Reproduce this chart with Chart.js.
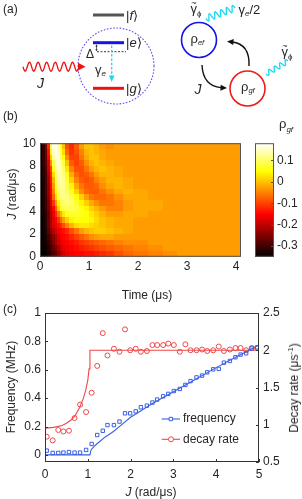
<!DOCTYPE html>
<html>
<head>
<meta charset="utf-8">
<script src="https://cdn.jsdelivr.net/npm/chart.js@4.4.1/dist/chart.umd.min.js"></script>
<style>
html, body { margin: 0; padding: 0; background: #fff; }
body { width: 302px; height: 499px; position: relative; overflow: hidden;
       font-family: 'Liberation Sans', Arial, sans-serif; color: #262626; }
canvas { position: absolute; left: 0; }
#cvB { top: 100px; }
#cvC { top: 300px; }
#schem { position: absolute; left: 0; top: 0; z-index: 2; }
.t { position: absolute; font-size: 12px; line-height: 1; white-space: nowrap; z-index: 3; }
.c { transform: translate(-50%, -50%); }
.v { transform: translate(-50%, -50%) rotate(-90deg); }
.t sub, .t sup { font-size: 8px; line-height: 0; }
</style>
</head>
<body>
<canvas id="cvB" width="302" height="200"></canvas>
<canvas id="cvC" width="302" height="199"></canvas>

<!-- panel (a): level scheme -->
<svg id="schem" width="302" height="110" font-family="Liberation Sans, Arial, sans-serif" fill="#262626">
  <text x="3" y="12.5" font-size="12">(a)</text>

  <line x1="93" y1="15" x2="124" y2="15" stroke="#555" stroke-width="3"/>
  <text x="126" y="19.5" font-size="13">|<tspan font-style="italic">f</tspan>⟩</text>
  <line x1="93" y1="42.7" x2="124" y2="42.7" stroke="#1414e6" stroke-width="3"/>
  <text x="126" y="47" font-size="13">|<tspan font-style="italic">e</tspan>⟩</text>
  <line x1="93" y1="88.3" x2="124" y2="88.3" stroke="#ee1111" stroke-width="3"/>
  <text x="126" y="92.7" font-size="13">|<tspan font-style="italic">g</tspan>⟩</text>

  <line x1="97" y1="51.7" x2="126" y2="51.7" stroke="#222" stroke-width="0.9" stroke-dasharray="2 1.5"/>
  <line x1="96.5" y1="45.5" x2="96.5" y2="50" stroke="#222" stroke-width="0.7"/>
  <polygon points="95.3,46.5 97.7,46.5 96.5,44.5" fill="#222"/>
  <polygon points="95.3,49.2 97.7,49.2 96.5,51.2" fill="#222"/>
  <text x="86" y="58" font-size="12">Δ</text>

  <line x1="111.7" y1="45.5" x2="111.7" y2="76" stroke="#19d8f2" stroke-width="1.3" stroke-dasharray="2.5 1.8"/>
  <polygon points="108.9,75.5 114.5,75.5 111.7,82" fill="#19d8f2"/>
  <text x="95" y="74" font-size="13">γ<tspan font-size="8" font-style="italic" dy="2">e</tspan></text>

  <circle cx="116" cy="66" r="38" fill="none" stroke="#6b4df0" stroke-width="1.1" stroke-dasharray="1.6 1.6"/>

  <path id="waveJ" fill="none" stroke="#ee1111" stroke-width="1.3"/>
  <polygon points="78,62.8 78,70.6 85.5,66.7" fill="#ee1111"/>
  <text x="37" y="88" font-size="14" font-style="italic">J</text>

  <circle cx="199" cy="40" r="17.5" fill="none" stroke="#1414e6" stroke-width="1.6"/>
  <text x="190.5" y="42.5" font-size="13">ρ<tspan font-size="7.5" font-style="italic" dy="2.5">ef</tspan></text>
  <circle cx="247.5" cy="88.5" r="17.5" fill="none" stroke="#ee1c1c" stroke-width="1.6"/>
  <text x="241" y="90.5" font-size="13">ρ<tspan font-size="7.5" font-style="italic" dy="2.5">gf</tspan></text>

  <path id="waveE" fill="none" stroke="#19d8f2" stroke-width="1.3"/>
  <path id="waveG" fill="none" stroke="#19d8f2" stroke-width="1.3"/>
  <text x="190.5" y="13" font-size="13">γ<tspan font-size="8" dy="2.5">ϕ</tspan></text>
  <text x="191.3" y="5.5" font-size="9">~</text>
  <text x="238.5" y="14" font-size="13">γ<tspan font-size="8" font-style="italic" dy="2">e</tspan><tspan dy="-2">/2</tspan></text>
  <text x="281.5" y="56" font-size="13">γ<tspan font-size="8" dy="2.5">ϕ</tspan></text>
  <text x="282.3" y="48.5" font-size="9">~</text>

  <path id="arrUp" fill="none" stroke="#111" stroke-width="1.4"/>
  <polygon id="headUp" fill="#111"/>
  <path id="arrDown" fill="none" stroke="#111" stroke-width="1.4"/>
  <polygon id="headDown" fill="#111"/>
  <text x="194.5" y="94" font-size="14" font-style="italic">J</text>
</svg>

<!-- panel labels and axis titles -->
<div class="t" style="left:3px;top:109.7px">(b)</div>
<div class="t v" style="left:12px;top:194px"><i>J</i> (rad/μs)</div>
<div class="t c" style="left:147px;top:295px">Time (μs)</div>
<div class="t" style="left:279px;top:117px;font-size:13px">ρ<sub><i>gf</i></sub></div>

<div class="t" style="left:3px;top:303px">(c)</div>
<div class="t v" style="left:11px;top:387px">Frequency (MHz)</div>
<div class="t v" style="left:294px;top:388px">Decay rate (μs<sup>-1</sup>)</div>
<div class="t c" style="left:151px;top:491.5px"><i>J</i> (rad/μs)</div>

<script>
// ---------- data: panel (b) heat map of rho_gf ----------
// time bin edges (μs)
const TIME_EDGES = [0, 0.05, 0.1, 0.15, 0.2, 0.25, 0.3, 0.35, 0.4, 0.45, 0.5,
                    0.6, 0.7, 0.8, 0.9, 1.0, 1.1, 1.2, 1.35, 1.5, 1.7, 1.9,
                    2.2, 2.5, 2.8, 3.1, 3.4, 3.7, 4.1];
// J bin edges (rad/μs)
const J_EDGES = [0, 0.5, 1, 1.5, 2, 2.5, 3, 3.5, 4, 4.5, 5,
                 5.5, 6, 6.5, 7, 7.5, 8, 8.5, 9, 9.5, 10];
// one row per J bin, bottom (J = 0) to top (J = 10)
const RHO_GF = [
  [-.35,-.35,-.34,-.33,-.31,-.29,-.27,-.24,-.21,-.19,-.17,-.16,-.15,-.15,-.14,-.14,-.13,-.12,-.11,-.09,-.07,-.06,-.05,-.04,-.03,-.03,-.03,-.03],
  [-.35,-.34,-.34,-.32,-.30,-.27,-.25,-.22,-.19,-.17,-.16,-.15,-.14,-.13,-.12,-.11,-.10,-.09,-.08,-.07,-.06,-.05,-.04,-.03,-.03,-.03,-.03,-.03],
  [-.35,-.34,-.33,-.31,-.28,-.25,-.22,-.19,-.17,-.16,-.15,-.14,-.13,-.11,-.10,-.09,-.08,-.07,-.06,-.05,-.04,-.04,-.03,-.03,-.03,-.03,-.03,-.03],
  [-.35,-.34,-.33,-.30,-.27,-.24,-.21,-.18,-.16,-.15,-.14,-.12,-.10,-.08,-.06,-.04,-.03,-.02,-.02,-.03,-.03,-.03,-.03,-.03,-.03,-.03,-.03,-.03],
  [-.35,-.34,-.32,-.28,-.24,-.21,-.18,-.16,-.15,-.14,-.12,-.09,-.06,-.03,-.01,0,.01,.01,0,-.01,-.02,-.03,-.03,-.03,-.03,-.03,-.03,-.03],
  [-.35,-.34,-.31,-.27,-.22,-.18,-.16,-.14,-.12,-.09,-.05,-.01,.02,.03,.03,.02,.01,0,-.01,-.02,-.02,-.03,-.03,-.03,-.03,-.03,-.03,-.03],
  [-.35,-.34,-.31,-.27,-.22,-.18,-.15,-.11,-.07,-.03,.01,.04,.05,.05,.05,.04,.02,0,-.01,-.02,-.02,-.03,-.03,-.03,-.03,-.03,-.03,-.03],
  [-.35,-.33,-.31,-.27,-.21,-.17,-.12,-.06,-.01,.03,.06,.07,.07,.06,.05,.03,.01,-.01,-.03,-.03,-.02,-.02,-.03,-.03,-.03,-.03,-.03,-.03],
  [-.35,-.33,-.30,-.26,-.20,-.15,-.08,.01,.06,.08,.09,.09,.08,.06,.04,.01,-.01,-.03,-.05,-.05,-.03,-.02,-.02,-.03,-.03,-.03,-.03,-.03],
  [-.35,-.33,-.30,-.25,-.18,-.11,-.03,.04,.08,.10,.11,.10,.07,.04,.01,-.02,-.04,-.06,-.06,-.05,-.03,-.02,-.02,-.03,-.03,-.03,-.03,-.03],
  [-.35,-.33,-.30,-.24,-.16,-.07,.02,.08,.11,.12,.11,.09,.05,.01,-.03,-.06,-.07,-.07,-.06,-.04,-.02,-.02,-.03,-.03,-.03,-.03,-.03,-.03],
  [-.35,-.33,-.29,-.23,-.15,-.05,.05,.10,.12,.12,.10,.06,.01,-.04,-.07,-.08,-.08,-.06,-.04,-.02,-.01,-.02,-.03,-.03,-.03,-.03,-.03,-.03],
  [-.35,-.33,-.29,-.23,-.14,-.03,.07,.12,.13,.12,.09,.04,-.02,-.06,-.08,-.08,-.07,-.04,-.02,-.01,-.02,-.03,-.03,-.03,-.03,-.03,-.03,-.03],
  [-.35,-.33,-.29,-.22,-.13,-.01,.08,.13,.14,.12,.08,.01,-.05,-.08,-.09,-.08,-.05,-.03,-.01,-.01,-.02,-.03,-.03,-.03,-.03,-.03,-.03,-.03],
  [-.35,-.32,-.29,-.21,-.12,.02,.10,.14,.14,.11,.06,-.02,-.07,-.09,-.08,-.06,-.03,-.01,-.01,-.02,-.03,-.03,-.03,-.03,-.03,-.03,-.03,-.03],
  [-.35,-.32,-.28,-.19,-.10,.06,.13,.15,.14,.10,.03,-.05,-.09,-.09,-.06,-.03,-.01,0,-.01,-.02,-.03,-.03,-.03,-.03,-.03,-.03,-.03,-.03],
  [-.35,-.31,-.27,-.18,-.04,.09,.15,.16,.13,.08,0,-.08,-.10,-.08,-.04,-.01,0,-.01,-.02,-.03,-.03,-.03,-.03,-.03,-.03,-.03,-.03,-.03],
  [-.35,-.31,-.27,-.16,.01,.12,.16,.16,.11,.05,-.04,-.10,-.10,-.06,-.02,0,0,-.02,-.03,-.03,-.03,-.03,-.03,-.03,-.03,-.03,-.03,-.03],
  [-.35,-.31,-.26,-.14,.05,.15,.17,.15,.09,.02,-.07,-.11,-.09,-.05,-.01,0,-.01,-.02,-.03,-.03,-.03,-.03,-.03,-.03,-.03,-.03,-.03,-.03],
  [-.35,-.31,-.25,-.12,.09,.16,.17,.14,.07,0,-.09,-.12,-.08,-.03,0,0,-.01,-.03,-.04,-.03,-.03,-.03,-.03,-.03,-.03,-.03,-.03,-.03]
];
const RHO_MIN = -0.35, RHO_MAX = 0.18;
const TIME_TICKS = [0, 1, 2, 3, 4];
const J_TICKS_B = [0, 2, 4, 6, 8, 10];
const RHO_TICKS = [-0.3, -0.2, -0.1, 0, 0.1];

// ---------- data: panel (c) ----------
const J_DATA = [0.04, 0.18, 0.31, 0.43, 0.56, 0.69, 0.82, 0.96, 1.09, 1.22, 1.35, 1.46, 1.61,
                1.74, 1.87, 1.99, 2.12, 2.24, 2.38, 2.51, 2.62, 2.76, 2.88, 3.01, 3.15, 3.28,
                3.40, 3.54, 3.67, 3.79, 3.93, 4.06, 4.18, 4.32, 4.45, 4.57, 4.70, 4.83, 4.96];
const FREQ = [0.03, 0.014, 0.014, 0.016, 0.02, 0.016, 0.016, 0.035, 0.077, 0.14, 0.17, 0.21, 0.21,
              0.235, 0.293, 0.293, 0.307, 0.336, 0.347, 0.369, 0.39, 0.413, 0.43, 0.45, 0.465, 0.493,
              0.52, 0.546, 0.559, 0.582, 0.603, 0.606, 0.65, 0.662, 0.688, 0.707, 0.716, 0.75, 0.758];
const DECAY = [0.84, 0.79, 0.93, 0.91, 0.92, 1.09, 1.27, 1.17, 1.43, 1.79, 2.23, 1.93, 2.02,
               1.98, 2.28, 2.0, 2.02, 1.98, 1.99, 2.07, 2.07, 2.07, 2.09, 2.07, 1.98, 2.08,
               2.0, 2.0, 2.01, 1.99, 2.0, 2.05, 1.99, 2.01, 2.03, 2.03, 2.0, 2.03, 2.03];
const FREQ_FIT_J = [0, 1.05, 1.07, 1.1, 1.15, 1.2, 1.3, 1.4, 1.6, 1.8, 2.0, 2.5, 3.0, 3.5, 4.0, 4.5, 5.0];
const FREQ_FIT   = [0, 0, 0.03, 0.045, 0.06, 0.075, 0.1, 0.125, 0.165, 0.215, 0.265, 0.36, 0.445, 0.53, 0.615, 0.695, 0.775];
const DECAY_FIT_J = [0, 0.2, 0.4, 0.5, 0.6, 0.7, 0.8, 0.9, 0.95, 1.0, 1.03, 1.05, 5.0];
const DECAY_FIT   = [0.955, 0.965, 0.99, 1.02, 1.06, 1.12, 1.22, 1.36, 1.46, 1.6, 1.75, 2.0, 2.0];
const J_TICKS_C = [0, 1, 2, 3, 4, 5];
const FREQ_TICKS = [0, 0.2, 0.4, 0.6, 0.8, 1];
const DECAY_TICKS = [0.5, 1, 1.5, 2, 2.5];

const BLUE = '#3a5fe5';
const RED = '#ef4747';
const INK = '#262626';
const FONT = { family: "'Liberation Sans', Arial, sans-serif", size: 12 };

// ---------- panel (a) decorations ----------
function wave(x0, y0, x1, y1, amp, periods) {
  const dx = x1 - x0, dy = y1 - y0, len = Math.hypot(dx, dy);
  const nx = -dy / len, ny = dx / len;
  let d = '';
  for (let i = 0; i <= 90; i++) {
    const s = i / 90, o = amp * Math.sin(2 * Math.PI * periods * s);
    d += (i ? 'L' : 'M') + (x0 + dx * s + nx * o).toFixed(2) + ' ' + (y0 + dy * s + ny * o).toFixed(2);
  }
  return d;
}
function head(tx, ty, ang, len, half) {
  const bx = tx - len * Math.cos(ang), by = ty - len * Math.sin(ang);
  const px = -Math.sin(ang) * half, py = Math.cos(ang) * half;
  return `${tx},${ty} ${bx + px},${by + py} ${bx - px},${by - py}`;
}
document.getElementById('waveJ').setAttribute('d', wave(23, 66.7, 79, 66.7, 4.5, 6.5));
document.getElementById('waveE').setAttribute('d', wave(206, 18.5, 235, 8, 3.3, 5));
document.getElementById('waveG').setAttribute('d', wave(266, 74, 288, 61, 2.5, 4));
document.getElementById('arrUp').setAttribute('d', 'M249 66 Q250 44 232 42');
document.getElementById('headUp').setAttribute('points', head(227, 41.4, Math.atan2(-1.5, -18), 6.5, 3));
document.getElementById('arrDown').setAttribute('d', 'M202 65 Q203 86 221 87.6');
document.getElementById('headDown').setAttribute('points', head(227, 88, Math.atan2(1, 18), 6.5, 3));

// ---------- helpers ----------
function hot(v) {
  const f = Math.min(1, Math.max(0, (v - RHO_MIN) / (RHO_MAX - RHO_MIN)));
  const r = Math.min(1, f / 0.375);
  const g = Math.min(1, Math.max(0, (f - 0.375) / 0.375));
  const b = Math.min(1, Math.max(0, (f - 0.75) / 0.25));
  return `rgb(${Math.round(r * 255)},${Math.round(g * 255)},${Math.round(b * 255)})`;
}
function fixTicks(list) {
  return scale => { scale.ticks = list.map(v => ({ value: v })); };
}
function axis(extra) {
  return Object.assign({
    type: 'linear',
    grid: { display: false, drawTicks: false },
    border: { display: false },
    ticks: { color: INK, font: FONT, autoSkip: false, callback: v => String(v) }
  }, extra);
}

Chart.defaults.font.family = FONT.family;

// ---------- panel (b) ----------
const heatPlugin = {
  id: 'heat',
  beforeDatasetsDraw(chart) {
    const { ctx, chartArea: a, scales: { x, y, cb } } = chart;
    ctx.save();
    for (let i = 0; i < RHO_GF.length; i++) {
      const yTop = Math.round(y.getPixelForValue(J_EDGES[i + 1]));
      const yBot = Math.round(y.getPixelForValue(J_EDGES[i]));
      for (let k = 0; k < RHO_GF[i].length; k++) {
        const xl = Math.round(x.getPixelForValue(TIME_EDGES[k]));
        const xr = Math.round(x.getPixelForValue(TIME_EDGES[k + 1]));
        ctx.fillStyle = hot(RHO_GF[i][k]);
        ctx.fillRect(xl, yTop, xr - xl, yBot - yTop);
      }
    }
    ctx.strokeStyle = '#555';
    ctx.lineWidth = 1;
    ctx.strokeRect(a.left + 0.5, a.top + 0.5, a.width - 1, a.height - 1);

    // colour bar
    const bx = a.right + 14, bw = 19;
    const top = cb.getPixelForValue(RHO_MAX), bot = cb.getPixelForValue(RHO_MIN);
    const grad = ctx.createLinearGradient(0, bot, 0, top);
    grad.addColorStop(0, '#000');
    grad.addColorStop(0.375, '#f00');
    grad.addColorStop(0.75, '#ff0');
    grad.addColorStop(1, '#fff');
    ctx.fillStyle = grad;
    ctx.fillRect(bx, top, bw, bot - top);
    ctx.strokeRect(bx + 0.5, top + 0.5, bw - 1, bot - top - 1);
    ctx.beginPath();
    RHO_TICKS.forEach(v => {
      const py = Math.round(cb.getPixelForValue(v)) + 0.5;
      ctx.moveTo(bx + bw - 3, py); ctx.lineTo(bx + bw, py);
    });
    ctx.stroke();
    ctx.restore();
  }
};

new Chart(document.getElementById('cvB'), {
  type: 'scatter',
  data: { datasets: [{ data: [] }] },
  options: {
    responsive: false,
    animation: false,
    layout: { padding: { top: 19, left: 0, right: 0, bottom: 0 } },
    plugins: { legend: { display: false }, tooltip: { enabled: false } },
    scales: {
      x: axis({ min: 0, max: 4.1, afterBuildTicks: fixTicks(TIME_TICKS),
                afterFit: s => { s.height = 32; },
                ticks: { color: INK, font: FONT, padding: 3, autoSkip: false, maxRotation: 0 } }),
      y: axis({ min: 0, max: 10, afterBuildTicks: fixTicks(J_TICKS_B),
                afterFit: s => { s.width = 40; },
                ticks: { color: INK, font: FONT, padding: 4, autoSkip: false } }),
      cb: axis({ position: 'right', min: RHO_MIN, max: RHO_MAX, afterBuildTicks: fixTicks(RHO_TICKS),
                 afterFit: s => { s.width = 61; },
                 ticks: { color: INK, font: FONT, padding: 36, autoSkip: false,
                          callback: v => String(Math.round(v * 10) / 10) } })
    }
  },
  plugins: [heatPlugin]
});

// ---------- panel (c) ----------
const frameC = {
  id: 'frameC',
  afterDraw(chart) {
    const { ctx, chartArea: a, scales } = chart;
    ctx.save();
    ctx.strokeStyle = '#333';
    ctx.lineWidth = 1;
    ctx.strokeRect(a.left + 0.5, a.top + 0.5, a.width - 1, a.height - 1);
    ctx.beginPath();
    J_TICKS_C.forEach(v => {
      const px = Math.round(scales.x.getPixelForValue(v)) + 0.5;
      ctx.moveTo(px, a.bottom); ctx.lineTo(px, a.bottom - 3);
    });
    FREQ_TICKS.forEach(v => {
      const py = Math.round(scales.yF.getPixelForValue(v)) + 0.5;
      ctx.moveTo(a.left, py); ctx.lineTo(a.left + 3, py);
    });
    DECAY_TICKS.forEach(v => {
      const py = Math.round(scales.yD.getPixelForValue(v)) + 0.5;
      ctx.moveTo(a.right, py); ctx.lineTo(a.right - 3, py);
    });
    ctx.stroke();

    // legend
    const items = [
      { text: 'frequency', color: BLUE, y: 119, style: 'rect' },
      { text: 'decay rate', color: RED, y: 139.3, style: 'circle' }
    ];
    ctx.font = `12px ${FONT.family}`;
    ctx.textBaseline = 'middle';
    items.forEach(it => {
      ctx.strokeStyle = it.color;
      ctx.lineWidth = 1.1;
      ctx.beginPath(); ctx.moveTo(161.7, it.y); ctx.lineTo(180, it.y); ctx.stroke();
      ctx.lineWidth = 1;
      ctx.beginPath();
      if (it.style === 'rect') ctx.rect(169.2, it.y - 1.7, 3.4, 3.4);
      else ctx.arc(171, it.y, 2.5, 0, Math.PI * 2);
      ctx.fillStyle = '#fff'; ctx.fill(); ctx.stroke();
      ctx.fillStyle = INK;
      ctx.fillText(it.text, 183, it.y);
    });
    ctx.restore();
  }
};

new Chart(document.getElementById('cvC'), {
  type: 'scatter',
  data: {
    datasets: [
      { data: FREQ_FIT_J.map((x, i) => ({ x, y: FREQ_FIT[i] })), yAxisID: 'yF',
        showLine: true, pointRadius: 0, borderColor: BLUE, borderWidth: 1.1, tension: 0 },
      { data: J_DATA.map((x, i) => ({ x, y: FREQ[i] })), yAxisID: 'yF',
        pointStyle: 'rect', pointRadius: 2.4, borderColor: BLUE, borderWidth: 1,
        backgroundColor: 'rgba(0,0,0,0)' },
      { data: DECAY_FIT_J.map((x, i) => ({ x, y: DECAY_FIT[i] })), yAxisID: 'yD',
        showLine: true, pointRadius: 0, borderColor: RED, borderWidth: 1.1, tension: 0 },
      { data: J_DATA.map((x, i) => ({ x, y: DECAY[i] })), yAxisID: 'yD',
        pointStyle: 'circle', pointRadius: 2.5, borderColor: RED, borderWidth: 1,
        backgroundColor: 'rgba(0,0,0,0)' }
    ]
  },
  options: {
    responsive: false,
    animation: false,
    layout: { padding: { top: 13, left: 0, right: 0, bottom: 0 } },
    plugins: { legend: { display: false }, tooltip: { enabled: false } },
    scales: {
      x: axis({ min: 0, max: 5, afterBuildTicks: fixTicks(J_TICKS_C),
                afterFit: s => { s.height = 37; },
                ticks: { color: INK, font: FONT, padding: 5, autoSkip: false, maxRotation: 0 } }),
      yF: axis({ position: 'left', min: -0.05, max: 1, afterBuildTicks: fixTicks(FREQ_TICKS),
                 afterFit: s => { s.width = 45; },
                 ticks: { color: INK, font: FONT, padding: 4, autoSkip: false, callback: v => String(v) } }),
      yD: axis({ position: 'right', min: 0.5, max: 2.5, afterBuildTicks: fixTicks(DECAY_TICKS),
                 afterFit: s => { s.width = 43; },
                 ticks: { color: INK, font: FONT, padding: 4, autoSkip: false, callback: v => String(v) } })
    }
  },
  plugins: [frameC]
});
</script>
</body>
</html>
